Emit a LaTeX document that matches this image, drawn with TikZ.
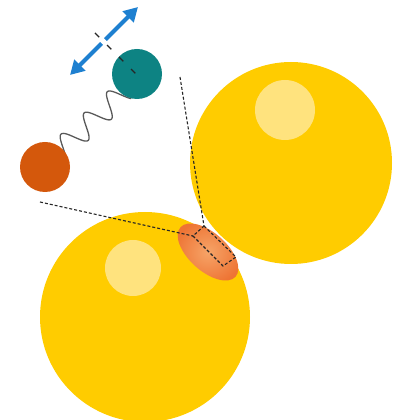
\documentclass[tikz,border=0pt]{standalone}
\usetikzlibrary{arrows.meta,calc}
\definecolor{gold}{HTML}{FFCC00}
\definecolor{goldhi}{HTML}{FFE37E}
\definecolor{teal}{HTML}{0D8383}
\definecolor{rust}{HTML}{D4580C}
\definecolor{skyblue}{HTML}{1E80D0}
\definecolor{neckout}{HTML}{EE7434}
\definecolor{neckin}{HTML}{F6A468}
\tikzset{
  sphere/.style={fill=gold},
  glint/.style={fill=goldhi},
  guide/.style={draw=black!85, line width=1.1pt, dash pattern=on 3pt off 2pt},
  atom/.style={circle, minimum size=50pt, inner sep=0pt},
  bond/.style={draw=black!65, line width=1.3pt, line join=round},
  motion/.style={draw=skyblue, line width=4pt,
    {Triangle[length=14pt,width=15pt]}-{Triangle[length=14pt,width=15pt]}},
  axis/.style={draw=black!85, line width=1.4pt, dash pattern=on 6pt off 11pt}
}
\begin{document}
\begin{tikzpicture}[x=1pt,y=1pt]
  \useasboundingbox (0,0) rectangle (393,420);
  \clip (0,0) rectangle (393,420);

  % two grains and their highlights
  \fill[sphere] (291,257) circle (101);
  \fill[glint]  (285,310) circle (30);
  \fill[sphere] (145,103) circle (105);
  \fill[glint]  (133,152) circle (28);

  % sintering neck between the grains
  \shade[inner color=neckin, outer color=neckout, rotate around={-42:(208,168)}]
    (208,168) ellipse [x radius=37pt, y radius=19pt];

  % magnified region of the neck
  \coordinate (nt) at (204,194);
  \coordinate (nr) at (236,163);
  \coordinate (nb) at (223,154);
  \coordinate (nl) at (193,184);
  \path[guide] (nt) -- (nr) -- (nb) -- (nl) -- cycle;
  \coordinate (gl) at (40,218);
  \coordinate (gt) at (180,343);
  \path[guide] (gl) -- (nl);
  \path[guide] (gt) -- (nt);

  % vibrating atom pair
  \begin{scope}[shift={(58,277)}, rotate=42.5]
    \path[bond] plot[domain=-6:84, samples=160, smooth]
      (\x, {-(7 - 11.5*cos(180*(\x-8.3)/15.7))});
  \end{scope}
  \node[atom, fill=rust] (a1) at (45,253) {};
  \node[atom, fill=teal] (a2) at (137,346) {};

  % direction of vibration, crossed by the bond axis
  \coordinate (m1) at (70,345);
  \coordinate (m2) at (138,413);
  \path[motion] (m1) -- (m2);
  \coordinate (x1) at (95,387);
  \coordinate (x2) at (137,345);
  \draw[white, line width=5pt] ($(x1)!0.15!(x2)$) -- ($(x1)!0.26!(x2)$);
  \path[axis] (x1) -- (x2);
\end{tikzpicture}
\end{document}
